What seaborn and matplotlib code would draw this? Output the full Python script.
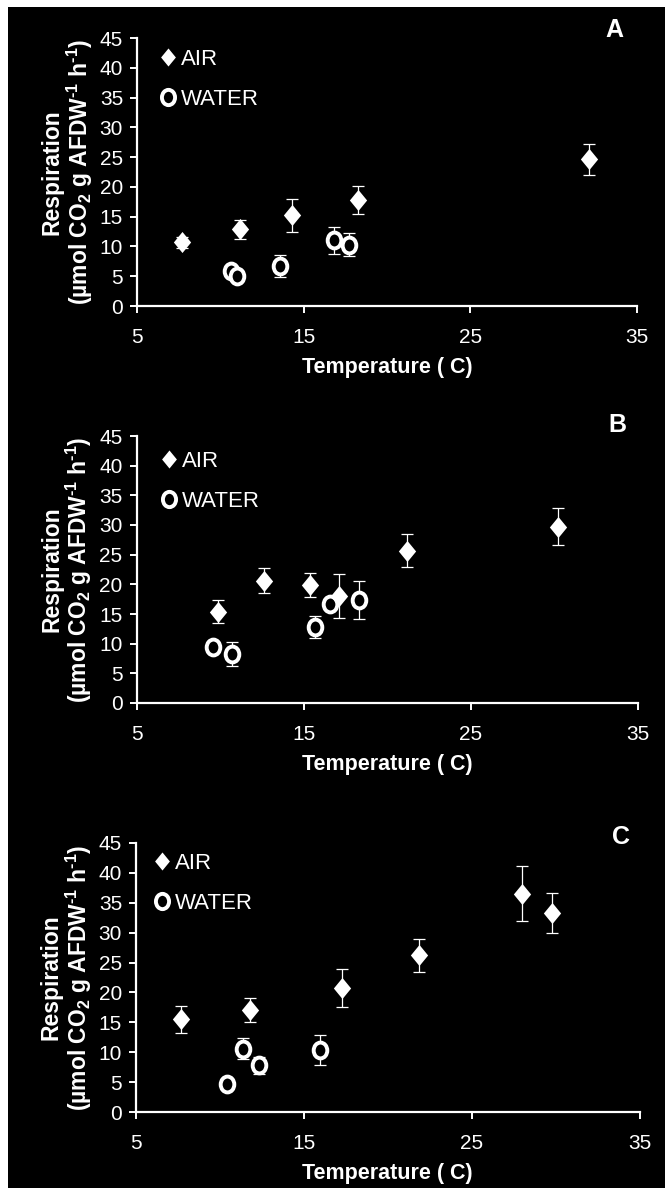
import numpy as np
import pandas as pd
import matplotlib
matplotlib.use("Agg")
import matplotlib.pyplot as plt
from matplotlib.lines import Line2D
from matplotlib.patches import Rectangle
from matplotlib.path import Path
import seaborn as sns

# ---- data: respiration vs temperature, three sites ----
panel_labels = ["A", "B", "C"]

air_temp_a = [7.7, 11.2, 14.3, 18.25, 32.1]
air_resp_a = [10.7, 12.9, 15.2, 17.8, 24.6]
air_err_a = [0.9, 1.6, 2.7, 2.3, 2.6]
water_temp_a = [10.65, 11.0, 13.6, 16.8, 17.7]
water_resp_a = [5.8, 5.1, 6.7, 11.0, 10.3]
water_err_a = [0.5, 0.4, 1.9, 2.3, 1.9]

air_temp_b = [9.9, 12.6, 15.35, 17.1, 21.2, 30.2]
air_resp_b = [15.4, 20.6, 19.9, 18.0, 25.7, 29.7]
air_err_b = [2.0, 2.1, 2.0, 3.7, 2.7, 3.1]
water_temp_b = [9.6, 10.7, 15.65, 16.55, 18.3]
water_resp_b = [9.5, 8.2, 12.8, 16.7, 17.4]
water_err_b = [0.9, 2.0, 1.8, 0.6, 3.2]

air_temp_c = [7.7, 11.8, 17.3, 21.85, 28.0, 29.8]
air_resp_c = [15.5, 17.1, 20.8, 26.2, 36.5, 33.3]
air_err_c = [2.3, 2.0, 3.2, 2.8, 4.6, 3.4]
water_temp_c = [10.45, 11.35, 12.3, 15.95]
water_resp_c = [4.7, 10.6, 7.8, 10.3]
water_err_c = [0.3, 1.7, 1.4, 2.5]

x_ticks = [5, 15, 25, 35]
y_ticks = [0, 5, 10, 15, 20, 25, 30, 35, 40, 45]

panels = [
    (air_temp_a, air_resp_a, air_err_a, water_temp_a, water_resp_a, water_err_a),
    (air_temp_b, air_resp_b, air_err_b, water_temp_b, water_resp_b, water_err_b),
    (air_temp_c, air_resp_c, air_err_c, water_temp_c, water_resp_c, water_err_c),
]

# ---- style ----
sns.set_theme(style="ticks")
plt.rcParams["font.family"] = ["Liberation Sans", "DejaVu Sans"]
plt.rcParams["mathtext.fontset"] = "custom"
plt.rcParams["mathtext.rm"] = "Liberation Sans"
plt.rcParams["mathtext.bf"] = "Liberation Sans:bold"
plt.rcParams["mathtext.default"] = "bf"

# markers: slightly tall diamond and slightly tall ring
diamond = Path([(0, 1), (0.82, 0), (0, -1), (-0.82, 0), (0, 1)],
               [Path.MOVETO, Path.LINETO, Path.LINETO, Path.LINETO, Path.CLOSEPOLY])
uc = Path.unit_circle()
ring = Path(uc.vertices * np.array([0.86, 1.0]), uc.codes)

W, H = 665, 1188
fig = plt.figure(figsize=(W / 100, H / 100), dpi=100, facecolor="white")
fig.patches.append(Rectangle((8 / W, 0), 1 - 8 / W, 1 - 7 / H,
                             transform=fig.transFigure, facecolor="black",
                             edgecolor="none", zorder=-10))

# axes boxes in pixels: left, right, bottom(y of 0), top(y of 45)
boxes = [(137, 637, 306, 38), (136.5, 638, 703, 436), (136, 639.5, 1112, 843)]
legend_anchor = [(0.047, 0.958), (0.050, 0.945), (0.037, 0.962)]
letter_pos = [(0.954, 1.03), (0.958, 1.041), (0.963, 1.022)]

ylabel = ("Respiration\n(µmol CO$_\\mathbf{2}$ g AFDW$^\\mathbf{\u2010 1}$ "
          "h$^\\mathbf{\u2010 1}$)")

for i, (box, data) in enumerate(zip(boxes, panels)):
    l, r, b, t = box
    ax = fig.add_axes([l / W, 1 - b / H, (r - l) / W, (b - t) / H])
    ax.set_facecolor("none")
    at, ar, ae, wt, wr, we = data
    air = pd.DataFrame({"Temperature": at, "Respiration": ar, "err": ae})
    water = pd.DataFrame({"Temperature": wt, "Respiration": wr, "err": we})

    for df in (water, air):
        ax.errorbar(df["Temperature"], df["Respiration"], yerr=df["err"],
                    fmt="none", ecolor="white", elinewidth=0.9,
                    capsize=4.5, capthick=0.9, zorder=2, clip_on=False)

    sns.scatterplot(data=water, x="Temperature", y="Respiration", ax=ax,
                    marker=ring, s=130, color="black", edgecolor="white",
                    linewidth=2.8, zorder=3, clip_on=False, legend=False)
    sns.scatterplot(data=air, x="Temperature", y="Respiration", ax=ax,
                    marker=diamond, s=230, color="white", edgecolor="white",
                    linewidth=0, zorder=4, clip_on=False, legend=False)

    ax.set_xlim(5, 35)
    ax.set_ylim(0, 45)
    ax.set_xticks(x_ticks)
    ax.set_yticks(y_ticks)
    for side in ("top", "right"):
        ax.spines[side].set_visible(False)
    for side in ("left", "bottom"):
        ax.spines[side].set_color("white")
        ax.spines[side].set_linewidth(1.6)
    ax.tick_params(axis="both", colors="white", labelcolor="white",
                   direction="out", length=5, width=1.4, labelsize=15)
    ax.tick_params(axis="x", pad=11)
    ax.tick_params(axis="y", pad=5)

    ax.set_xlabel("Temperature ( C)", color="white", fontsize=15.5,
                  fontweight="bold")
    ax.xaxis.set_label_coords(0.5, -0.19)
    ax.set_ylabel(ylabel, color="white", fontsize=16.5, fontweight="bold",
                  linespacing=1.05)
    ax.yaxis.set_label_coords(-0.084, 0.5)

    handles = [
        Line2D([], [], linestyle="none", marker=diamond, markersize=13,
               markerfacecolor="white", markeredgecolor="white", markeredgewidth=0),
        Line2D([], [], linestyle="none", marker=ring, markersize=11,
               markerfacecolor="black", markeredgecolor="white", markeredgewidth=2.8),
    ]
    leg = ax.legend(handles, ["AIR", "WATER"], loc="upper left",
                    bbox_to_anchor=legend_anchor[i], frameon=False,
                    fontsize=16, handlelength=0.7, handletextpad=0.2,
                    labelspacing=0.85, borderpad=0, borderaxespad=0)
    for txt in leg.get_texts():
        txt.set_color("white")

    ax.text(letter_pos[i][0], letter_pos[i][1], panel_labels[i],
            transform=ax.transAxes, color="white", fontsize=18,
            fontweight="bold", ha="center", va="center")

fig.savefig("out.png", dpi=100, facecolor="white")
